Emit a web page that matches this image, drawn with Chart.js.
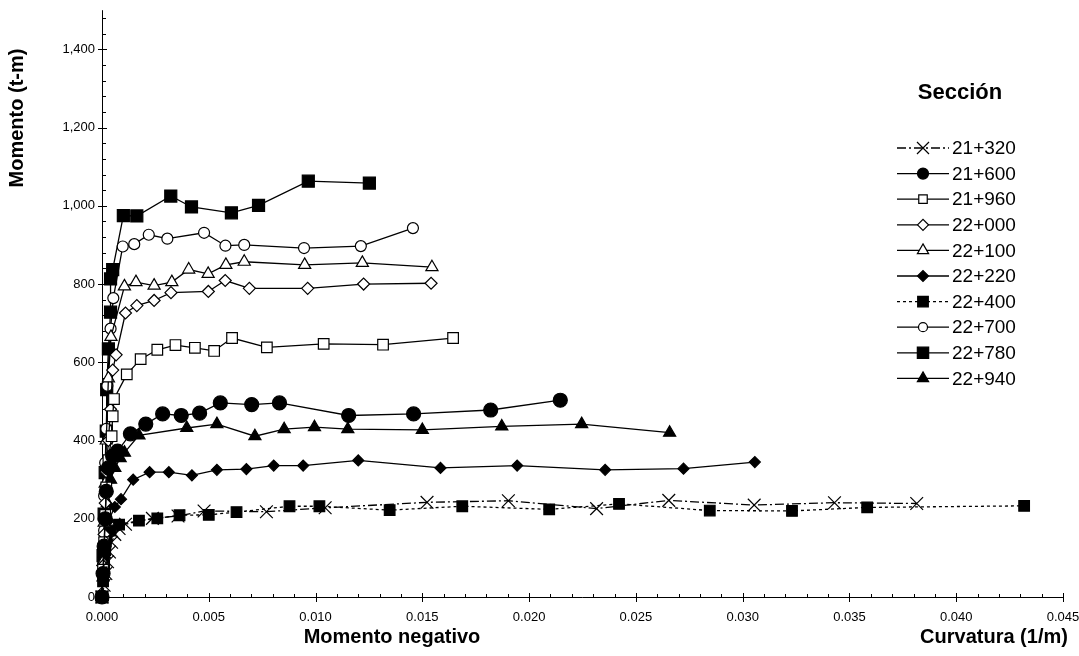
<!DOCTYPE html>
<html>
<head>
<meta charset="utf-8">
<script src="https://cdn.jsdelivr.net/npm/chart.js@4.4.1/dist/chart.umd.min.js"></script>
<style>
    body { margin: 0; background: #fff; }
    #wrap { width: 1079px; height: 656px; position: relative; }
</style>
</head>
<body>
<div id="wrap"><canvas id="chart1"></canvas></div>
<script>
// secciones
const seriesNames = ['21+320', '21+600', '21+960', '22+000', '22+100', '22+220', '22+400', '22+700', '22+780', '22+940'];

// curvatura (1/m) y momento (t-m) por sección
const x21320 = [0, 0.0001, 0.00018, 0.00026, 0.00035, 0.00045, 0.0006, 0.0008, 0.0011, 0.00236, 0.00356, 0.00478, 0.0077, 0.01045, 0.01522, 0.01903, 0.02316, 0.02654, 0.03054, 0.0343, 0.03815];
const y21320 = [0, 30, 60, 90, 115, 140, 160, 175, 186, 201, 207, 220, 218, 228, 242, 246, 226, 247, 235, 241, 239];

const x21600 = [0, 0.00005, 0.0001, 0.00015, 0.0002, 0.0003, 0.0005, 0.00073, 0.00133, 0.00205, 0.00284, 0.00371, 0.00457, 0.00554, 0.00701, 0.00831, 0.01155, 0.01459, 0.0182, 0.02146];
const y21600 = [0, 60, 130, 200, 270, 330, 360, 373, 417, 442, 468, 464, 470, 496, 492, 496, 464, 468, 478, 503];

const x21960 = [0, 0.00005, 0.0001, 0.00015, 0.0002, 0.0003, 0.00045, 0.0005, 0.00056, 0.00116, 0.00181, 0.00259, 0.00344, 0.00435, 0.00525, 0.00609, 0.00772, 0.01038, 0.01316, 0.01644];
const y21960 = [0, 70, 140, 210, 280, 350, 411, 462, 506, 569, 608, 632, 644, 637, 629, 662, 638, 647, 645, 662];

const x22000 = [0, 0.00005, 0.0001, 0.00015, 0.0002, 0.0003, 0.0004, 0.0005, 0.00066, 0.0011, 0.00163, 0.00244, 0.00323, 0.00498, 0.00577, 0.0069, 0.00963, 0.01225, 0.01541];
const y22000 = [0, 80, 160, 240, 320, 400, 480, 580, 619, 726, 745, 758, 778, 781, 809, 789, 789, 800, 802];

const x22100 = [0, 0.00005, 0.0001, 0.00015, 0.0002, 0.0003, 0.00042, 0.00105, 0.00159, 0.00244, 0.00327, 0.00406, 0.00497, 0.0058, 0.00666, 0.00949, 0.01219, 0.01545];
const y22100 = [0, 90, 190, 290, 400, 559, 665, 794, 805, 796, 805, 837, 826, 849, 857, 849, 854, 843];

const x22220 = [0, 0.00005, 0.0001, 0.00015, 0.0003, 0.0006, 0.00089, 0.00146, 0.00223, 0.00313, 0.00421, 0.00538, 0.00676, 0.00804, 0.00942, 0.012, 0.01585, 0.01944, 0.02356, 0.02723, 0.03057];
const y22220 = [0, 50, 100, 150, 195, 230, 250, 300, 319, 319, 311, 325, 327, 336, 336, 349, 330, 336, 325, 328, 345];

const x22400 = [0, 0.00005, 0.0001, 0.00015, 0.0002, 0.0004, 0.0008, 0.00173, 0.00259, 0.00363, 0.005, 0.0063, 0.00878, 0.01018, 0.01347, 0.01687, 0.02094, 0.02421, 0.02846, 0.03231, 0.03583, 0.04318];
const y22400 = [0, 40, 80, 120, 150, 170, 185, 195, 201, 209, 210, 217, 232, 232, 222, 232, 224, 238, 221, 220, 229, 233];

const x22700 = [0, 0.00005, 0.0001, 0.0001, 0.00015, 0.0002, 0.00025, 0.0004, 0.00053, 0.00097, 0.00151, 0.00219, 0.00306, 0.00478, 0.00578, 0.00666, 0.00946, 0.01212, 0.01456];
const y22700 = [0, 85, 170, 259, 343, 430, 540, 686, 764, 896, 902, 926, 916, 931, 898, 900, 892, 897, 943];

const x22780 = [0, 0.00005, 0.0001, 0.00015, 0.0002, 0.00022, 0.0003, 0.0004, 0.0004, 0.0005, 0.001, 0.00163, 0.00322, 0.00419, 0.00606, 0.00733, 0.00966, 0.01252];
const y22780 = [0, 106, 212, 318, 424, 530, 634, 728, 813, 837, 975, 974, 1025, 997, 982, 1001, 1063, 1058];

const x22940 = [0, 0.00005, 0.0001, 0.00015, 0.00025, 0.0004, 0.0006, 0.00085, 0.00105, 0.00173, 0.00397, 0.00538, 0.00716, 0.00853, 0.00995, 0.01151, 0.015, 0.01872, 0.02246, 0.02658];
const y22940 = [0, 50, 110, 170, 240, 300, 330, 355, 369, 413, 432, 442, 411, 429, 434, 429, 427, 436, 442, 420];

// ejes
const xTicks = [0, 0.005, 0.01, 0.015, 0.02, 0.025, 0.03, 0.035, 0.04, 0.045];
const yTicks = [0, 200, 400, 600, 800, 1000, 1200, 1400];

const seriesX = [x21320, x21600, x21960, x22000, x22100, x22220, x22400, x22700, x22780, x22940];
const seriesY = [y21320, y21600, y21960, y22000, y22100, y22220, y22400, y22700, y22780, y22940];

// estilo de cada serie: marcador, relleno, tamaño, tipo de linea
const styles = [
    { point: 'crossRot', fill: false, r: 9, lr: 8.5, dash: [9, 3, 2, 3] },
    { point: 'circle', fill: true, r: 7, lr: 5.5, dash: [] },
    { point: 'rect', fill: false, r: 7.5, lr: 6, dash: [] },
    { point: 'rectRot', fill: false, r: 6, lr: 5.5, dash: [] },
    { point: 'triangle', fill: false, r: 7, lr: 6.5, dash: [] },
    { point: 'rectRot', fill: true, r: 5.5, lr: 5.5, dash: [] },
    { point: 'rect', fill: true, r: 7.5, lr: 7.5, dash: [3, 3] },
    { point: 'circle', fill: false, r: 5.5, lr: 4.5, dash: [] },
    { point: 'rect', fill: true, r: 8.5, lr: 8, dash: [] },
    { point: 'triangle', fill: true, r: 7, lr: 6.5, dash: [] }
];

const FONT = '"Liberation Sans", Arial, sans-serif';

function buildDatasets() {
    var list = [];
    for (var i = 0; i < seriesNames.length; i++) {
        var pts = [];
        for (var j = 0; j < seriesX[i].length; j++) {
            pts.push({ x: seriesX[i][j], y: seriesY[i][j] });
        }
        var st = styles[i];
        list.push({
            label: seriesNames[i],
            data: pts,
            showLine: true,
            borderColor: '#000',
            borderWidth: 1.3,
            borderDash: st.dash,
            pointStyle: st.point,
            pointRadius: st.r,
            pointBackgroundColor: st.fill ? '#000' : '#fff',
            pointBorderColor: '#000',
            pointBorderWidth: 1.2,
            clip: false
        });
    }
    return list;
}

// ejes con marcas mayores y menores
const axesPlugin = {
    id: 'axesPlugin',
    beforeDatasetsDraw: function (chart) {
        const ctx = chart.ctx, a = chart.chartArea;
        const xs = chart.scales.x, ys = chart.scales.y;
        ctx.save();
        ctx.strokeStyle = '#000';
        ctx.lineWidth = 1;
        ctx.beginPath();
        ctx.moveTo(a.left + 0.5, a.top);
        ctx.lineTo(a.left + 0.5, a.bottom + 0.5);
        ctx.lineTo(a.right, a.bottom + 0.5);
        ctx.stroke();
        ctx.beginPath();
        for (var k = 0; k <= 45; k++) {
            var px = Math.round(xs.getPixelForValue(k * 0.001)) + 0.5;
            if (k % 5 === 0) {
                ctx.moveTo(px, a.bottom - 4);
                ctx.lineTo(px, a.bottom + 5);
            } else {
                ctx.moveTo(px, a.bottom - 3);
                ctx.lineTo(px, a.bottom + 1);
            }
        }
        for (var m = 0; m <= 1500; m += 40) {
            var py = Math.round(ys.getPixelForValue(m)) + 0.5;
            if (m % 200 === 0) {
                ctx.moveTo(a.left - 4, py);
                ctx.lineTo(a.left + 5, py);
            } else {
                ctx.moveTo(a.left, py);
                ctx.lineTo(a.left + 4, py);
            }
        }
        ctx.stroke();
        ctx.restore();
    },
    afterDraw: function (chart) {
        const ctx = chart.ctx;
        ctx.save();
        ctx.fillStyle = '#000';
        // titulos
        ctx.font = 'bold 20px ' + FONT;
        ctx.textBaseline = 'middle';
        ctx.textAlign = 'center';
        ctx.fillText('Momento negativo', 392, 637);
        ctx.fillText('Curvatura (1/m)', 994, 637);
        ctx.save();
        ctx.translate(17, 118);
        ctx.rotate(-Math.PI / 2);
        ctx.font = 'bold 20px ' + FONT;
        ctx.fillText('Momento (t-m)', 0, 0);
        ctx.restore();
        ctx.font = 'bold 22px ' + FONT;
        ctx.fillText('Sección', 960, 93);

        // leyenda
        ctx.font = '19px ' + FONT;
        ctx.textAlign = 'left';
        for (var i = 0; i < seriesNames.length; i++) {
            var st = styles[i];
            var y = 148 + i * 25.6;
            ctx.strokeStyle = '#000';
            ctx.lineWidth = 1.3;
            ctx.setLineDash(st.dash);
            ctx.beginPath();
            ctx.moveTo(897, y);
            ctx.lineTo(949, y);
            ctx.stroke();
            ctx.setLineDash([]);
            ctx.fillStyle = st.fill ? '#000' : '#fff';
            ctx.lineWidth = 1.2;
            Chart.helpers.drawPoint(ctx, { pointStyle: st.point, radius: st.lr, rotation: 0, borderWidth: 1.2 }, 923, y);
            ctx.fillStyle = '#000';
            ctx.fillText(seriesNames[i], 952, y + 1);
        }
        ctx.restore();
    }
};

new Chart(document.getElementById('chart1'), {
    type: 'scatter',
    data: { datasets: buildDatasets() },
    options: {
        responsive: true,
        maintainAspectRatio: false,
        animation: false,
        layout: { padding: { left: 0, top: 7, right: 16, bottom: 0 } },
        plugins: {
            legend: { display: false },
            tooltip: { enabled: false }
        },
        scales: {
            x: {
                type: 'linear',
                min: 0,
                max: 0.045,
                afterFit: function (s) { s.height = 59; s.paddingLeft = 0; s.paddingRight = 0; },
                afterBuildTicks: function (s) { s.ticks = xTicks.map(function (v) { return { value: v }; }); },
                grid: { display: false, drawTicks: false },
                border: { display: false },
                ticks: {
                    padding: 13,
                    color: '#000',
                    font: { family: FONT, size: 13 },
                    maxRotation: 0,
                    callback: function (v) { return Number(v).toFixed(3); }
                }
            },
            y: {
                type: 'linear',
                min: 0,
                max: 1500,
                afterFit: function (s) { s.width = 102; s.paddingTop = 0; s.paddingBottom = 0; },
                afterBuildTicks: function (s) { s.ticks = yTicks.map(function (v) { return { value: v }; }); },
                grid: { display: false, drawTicks: false },
                border: { display: false },
                ticks: {
                    padding: 7,
                    color: '#000',
                    font: { family: FONT, size: 13 },
                    callback: function (v) { return Number(v).toLocaleString('en-US'); }
                }
            }
        }
    },
    plugins: [axesPlugin]
});
</script>
</body>
</html>
